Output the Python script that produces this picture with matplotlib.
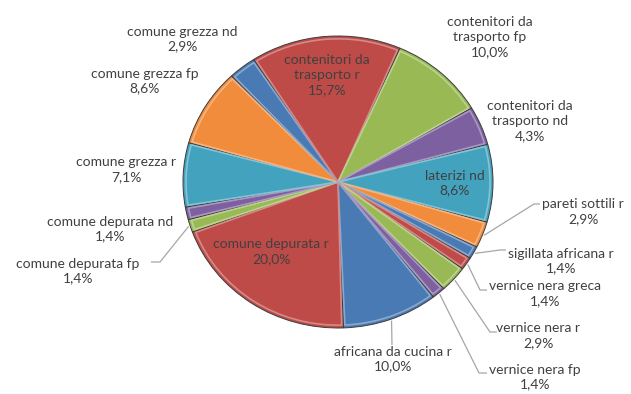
import numpy as np
import matplotlib.pyplot as plt
from matplotlib.patches import Wedge
from matplotlib.colors import to_rgb

# dati
categories = ["africana da cucina r", "comune depurata r", "comune depurata fp",
              "comune depurata nd", "comune grezza r", "comune grezza fp",
              "comune grezza nd", "contenitori da\ntrasporto r",
              "contenitori da\ntrasporto fp", "contenitori da\ntrasporto nd",
              "laterizi nd", "pareti sottili r", "sigillata africana r",
              "vernice nera greca", "vernice nera r", "vernice nera fp"]
percent = [10.0, 20.0, 1.4, 1.4, 7.1, 8.6, 2.9, 15.7, 10.0, 4.3, 8.6,
           2.9, 1.4, 1.4, 2.9, 1.4]
palette = ["#4A7AB4", "#BE4B48", "#98B954", "#7D60A0", "#43A2BE", "#F08C3C"]

W, H = 631, 394
SY = 155 / 146          # pie leggermente schiacciato in verticale
TXT = "#404040"
LINE = "#a6a6a6"


def P(x, y):
    # pixel (origine in alto a sinistra) -> coordinate dati
    return x, (H - y) * SY


def lighten(c, f=0.35):
    r, g, b = to_rgb(c)
    return (r + (1 - r) * f, g + (1 - g) * f, b + (1 - b) * f)


# posizione (centro) delle etichette, in pixel
label_pos = {
    0: (393, 359), 1: (271, 252), 2: (78, 271), 3: (110, 229),
    4: (126, 170), 5: (145, 81), 6: (182, 39), 7: (327, 75),
    8: (490, 37), 9: (530, 121), 10: (455, 183), 11: (583, 212),
    12: (561, 261), 13: (545, 294), 14: (538, 336), 15: (535, 377),
}
# linee guida: gomito e fine, in pixel
leaders = {
    0: [(392, 345)],
    2: [(160, 262), (151, 262)],
    11: [(534, 204), (540, 204)],
    12: [(500, 250), (506, 250)],
    13: [(480, 290), (487, 290)],
    14: [(490, 332), (497, 332)],
    15: [(479, 373), (487, 373)],
}

fig = plt.figure(figsize=(W / 100, H / 100), dpi=100)
ax = fig.add_axes([0, 0, 1, 1])

colors = [palette[i % len(palette)] for i in range(len(percent))]
cx, cy = P(338, 182)
R = 155
wedges, _ = ax.pie(percent, colors=colors, startangle=-52, counterclock=False,
                   center=(cx, cy), radius=R,
                   wedgeprops=dict(edgecolor="#3c3c3c", linewidth=0.7))
ax.set_aspect("auto")
ax.set_xlim(0, W)
ax.set_ylim(0, H * SY)
ax.axis("off")

# effetto "smusso": bordo interno più chiaro
for w, c in zip(wedges, colors):
    ax.add_patch(Wedge(w.center, R - 3, w.theta1 + 0.6, w.theta2 - 0.6,
                       facecolor="none", edgecolor=lighten(c), linewidth=1.2))

for i, (cat, pct) in enumerate(zip(categories, percent)):
    txt = f"{cat}\n{pct:.1f}%".replace(".", ",")
    x, y = P(*label_pos[i])
    ax.text(x, y, txt, ha="center", va="center", multialignment="center",
            fontsize=10, family="Lato", color=TXT, linespacing=1.3)

for i, pts in leaders.items():
    w = wedges[i]
    mid = np.deg2rad((w.theta1 + w.theta2) / 2)
    xs = [cx + R * 1.01 * np.cos(mid)]
    ys = [cy + R * 1.01 * np.sin(mid)]
    for px, py in pts:
        x, y = P(px, py)
        xs.append(x)
        ys.append(y)
    ax.plot(xs, ys, color=LINE, lw=0.9, solid_capstyle="butt")

fig.savefig("out.png", dpi=100, facecolor="white")
